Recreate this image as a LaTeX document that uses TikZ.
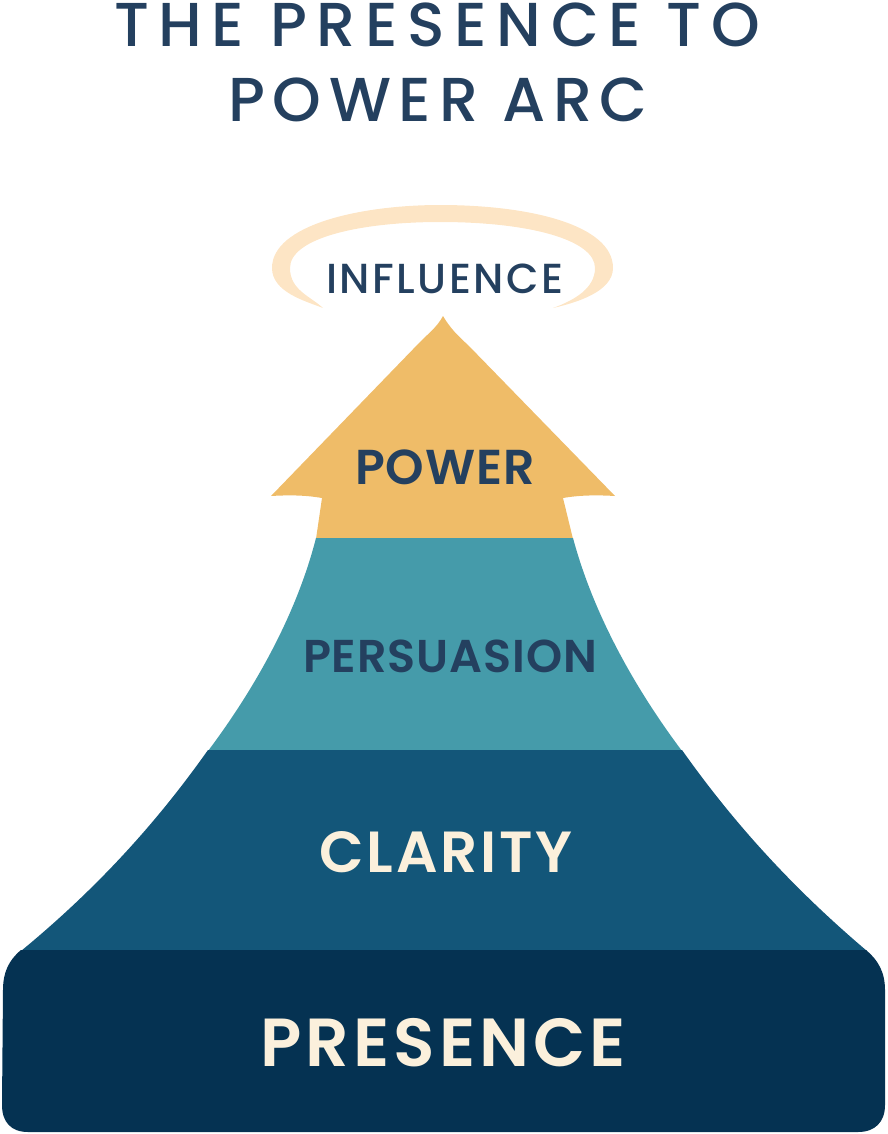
\documentclass[tikz,border=0pt]{standalone}
\usepackage{fontspec}
\setmainfont{Poppins}
\newfontfamily\ttlafont[LetterSpace=15.5]{Poppins Medium}
\newfontfamily\ttlbfont[LetterSpace=12.5]{Poppins Medium}
\newfontfamily\inffont[LetterSpace=6]{Poppins Medium}
\newfontfamily\lblfont[LetterSpace=2]{Poppins SemiBold}
\newfontfamily\clafont[LetterSpace=5]{Poppins SemiBold}
\newfontfamily\prefont[LetterSpace=6]{Poppins SemiBold}
\definecolor{ink}{HTML}{24405F}
\definecolor{gold}{HTML}{EFBC68}
\definecolor{halo}{HTML}{FDE5C5}
\definecolor{teal}{HTML}{459BAA}
\definecolor{midblue}{HTML}{135679}
\definecolor{deepblue}{HTML}{053252}
\definecolor{cream}{HTML}{FBF0DC}
\tikzset{
  ttl/.style={anchor=base,text=ink,inner sep=0pt},
  lbl/.style={anchor=base,inner sep=0pt},
  band/.style={draw=none}
}
\begin{document}
\begin{tikzpicture}[x=1pt,y=-1pt]
\useasboundingbox (0,0) rectangle (887,1134);
% halo
\fill[halo] (323,308) .. controls (305,301) and (272,292) .. (272,268)
  .. controls (272,225) and (360,205) .. (440,205)
  .. controls (530,205) and (613,225) .. (613,268)
  .. controls (613,292) and (575,303) .. (553,308)
  .. controls (575,300) and (595,288) .. (595,268)
  .. controls (595,240) and (530,222) .. (440,222)
  .. controls (360,222) and (290,238) .. (290,268)
  .. controls (290,290) and (310,296) .. (323,308) -- cycle;
% power arrow
\fill[gold,band] (316,539) -- (322,498) .. controls (305,495) and (288,495) .. (271,496)
  -- (420,342) .. controls (430,332) and (437,327) .. (443,316)
  .. controls (450,328) and (458,336) .. (468,345)
  -- (615,496) .. controls (598,495) and (580,495) .. (563,498) -- (573,539) -- cycle;
% persuasion
\fill[teal,band] (316,538) -- (573,538)
  .. controls (595,620) and (640,695) .. (682,751)
  -- (208,751) .. controls (250,695) and (295,620) .. (316,538) -- cycle;
% clarity
\fill[midblue,band] (208,750) -- (682,750)
  .. controls (735,825) and (795,890) .. (867,951)
  -- (21,951) .. controls (95,890) and (155,825) .. (208,750) -- cycle;
% presence
\fill[deepblue,band] (21,950) -- (866,950) .. controls (878,960) and (885,972) .. (885,990)
  -- (885,1105) .. controls (885,1122) and (875,1132) .. (858,1132)
  -- (28,1132) .. controls (11,1132) and (2,1122) .. (2,1105)
  -- (3,990) .. controls (3,972) and (9,960) .. (21,950) -- cycle;
% text
\node[ttl,font=\ttlafont\fontsize{62}{62}\selectfont] (title1) at (437,47) {THE PRESENCE TO};
\node[ttl,font=\ttlbfont\fontsize{62}{62}\selectfont] (title2) at (438,122) {POWER ARC};
\node[lbl,text=ink,font=\inffont\fontsize{42}{42}\selectfont] (influence) at (445,293) {INFLUENCE};
\node[lbl,text=ink,font=\lblfont\fontsize{49}{49}\selectfont] (power) at (445,484) {POWER};
\node[lbl,text=ink,font=\lblfont\fontsize{46}{46}\selectfont] (persuasion) at (450,672) {PERSUASION};
\node[lbl,text=cream,font=\clafont\fontsize{58}{58}\selectfont] (clarity) at (446,872) {CLARITY};
\node[lbl,text=cream,font=\prefont\fontsize{68}{68}\selectfont] (presence) at (443,1066) {PRESENCE};
\end{tikzpicture}
\end{document}
